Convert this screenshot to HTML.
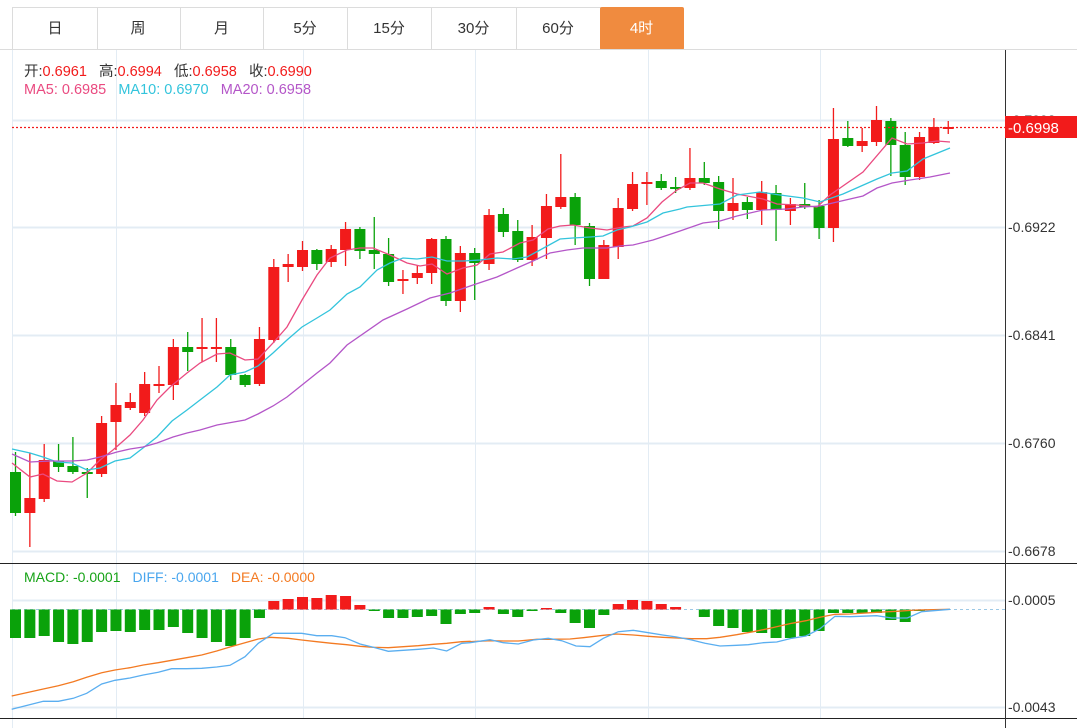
<!DOCTYPE html>
<html><head><meta charset="utf-8">
<style>
body{margin:0;width:1077px;height:728px;overflow:hidden;background:#fff;font-family:"Liberation Sans","Noto Sans CJK SC",sans-serif;}
.tabs{position:absolute;left:12px;top:7px;height:42px;}
.tab{position:absolute;top:0;height:41px;border:1px solid #dcdcdc;border-left:none;line-height:41px;text-align:center;font-size:15px;color:#333;}
.tab.a{background:#f08b3f;color:#fff;border-color:#f08b3f;border-radius:2px;}
.lg{position:absolute;left:24px;font-size:14.5px;white-space:nowrap;}
</style></head><body>
<div class="tabs">
<div class="tab" style="left:0;width:84px;border-left:1px solid #dcdcdc">日</div>
<div class="tab" style="left:84px;width:84px">周</div>
<div class="tab" style="left:168px;width:83px">月</div>
<div class="tab" style="left:251px;width:84px">5分</div>
<div class="tab" style="left:335px;width:84px">15分</div>
<div class="tab" style="left:419px;width:85px">30分</div>
<div class="tab" style="left:504px;width:84px">60分</div>
<div class="tab a" style="left:588px;width:83px">4时</div>
</div>
<svg id="s" width="1077" height="728" style="position:absolute;left:0;top:0">
<line x1="0" y1="49.5" x2="1077" y2="49.5" stroke="#dcdcdc"/>
<g stroke="#e3ecf4" stroke-width="1">
<line x1="116.5" y1="50" x2="116.5" y2="718"/><line x1="303.5" y1="50" x2="303.5" y2="718"/>
<line x1="475.5" y1="50" x2="475.5" y2="718"/><line x1="648.5" y1="50" x2="648.5" y2="718"/>
<line x1="820.5" y1="50" x2="820.5" y2="718"/>
<line x1="12" y1="120.5" x2="1005" y2="120.5" stroke-width="2"/><line x1="12" y1="227.5" x2="1005" y2="227.5" stroke-width="2"/>
<line x1="12" y1="335.5" x2="1005" y2="335.5" stroke-width="2"/><line x1="12" y1="443.5" x2="1005" y2="443.5" stroke-width="2"/>
<line x1="12" y1="551.5" x2="1005" y2="551.5" stroke-width="2"/>
<line x1="12" y1="600.5" x2="1005" y2="600.5" stroke-width="2"/><line x1="12" y1="707.5" x2="1005" y2="707.5" stroke-width="2"/>
<line x1="12.5" y1="50" x2="12.5" y2="728"/>
</g>
<line x1="0" y1="563.5" x2="1077" y2="563.5" stroke="#222"/>
<line x1="0" y1="718.5" x2="1077" y2="718.5" stroke="#222"/>
<line x1="1005.5" y1="50" x2="1005.5" y2="728" stroke="#333"/>
<line x1="12" y1="609.5" x2="1005" y2="609.5" stroke="#9cc9e6" stroke-dasharray="3,3"/>
<g id="c"></g>
<line x1="12" y1="127.5" x2="1005" y2="127.5" stroke="#f21b1b" stroke-width="1.2" stroke-dasharray="2,2"/>
<g font-size="14" fill="#333" font-family="Liberation Sans,sans-serif">
<text x="1008" y="125">-0.7003</text>
<text x="1008" y="232">-0.6922</text>
<text x="1008" y="340">-0.6841</text>
<text x="1008" y="448">-0.6760</text>
<text x="1008" y="556">-0.6678</text>
<text x="1008" y="605">-0.0005</text>
<text x="1008" y="712">-0.0043</text>
</g>
<rect x="1005" y="116" width="72" height="22" fill="#f21b1b"/>
<text x="1008" y="133" font-size="15" fill="#fff">-0.6998</text>
<text x="24" y="582" font-size="14"><tspan fill="#17a317">MACD: -0.0001</tspan><tspan fill="#49a6ee" dx="12">DIFF: -0.0001</tspan><tspan fill="#f37a22" dx="12">DEA: -0.0000</tspan></text>
</svg>
<div class="lg" style="top:60px"><span style="color:#333">开:</span><span style="color:#f21b1b">0.6961</span>&nbsp;&nbsp; <span style="color:#333">高:</span><span style="color:#f21b1b">0.6994</span>&nbsp;&nbsp; <span style="color:#333">低:</span><span style="color:#f21b1b">0.6958</span>&nbsp;&nbsp; <span style="color:#333">收:</span><span style="color:#f21b1b">0.6990</span></div>
<div class="lg" style="top:82px"><span style="color:#ea4a80">MA5: 0.6985</span>&nbsp;&nbsp; <span style="color:#33c4dc">MA10: 0.6970</span>&nbsp;&nbsp; <span style="color:#b456c8">MA20: 0.6958</span></div>
<script>
var C=[[472,513,452,516,'g'],[498,513,453,547,'r'],[460,499,444,502,'r'],[461,467,444,472,'g'],[466,472,437,474,'g'],[472,474,468,498,'g'],[423,474,416,477,'r'],[405,422,383,450,'r'],[402,408,393,410,'r'],[384,413,372,416,'r'],[384,386,366,393,'r'],[347,385,339,400,'r'],[347,352,332,371,'g'],[347,349,318,362,'r'],[347,349,318,362,'r'],[347,375,339,380,'g'],[375,385,374,387,'g'],[339,384,327,386,'r'],[267,340,259,343,'r'],[264,267,254,282,'r'],[250,267,241,271,'r'],[250,264,249,270,'g'],[249,262,245,267,'r'],[229,250,222,266,'r'],[229,251,227,259,'g'],[250,254,217,269,'g'],[254,282,238,286,'g'],[279,281,270,294,'r'],[273,278,265,284,'r'],[239,273,238,284,'r'],[239,301,236,306,'g'],[253,301,246,312,'r'],[253,263,248,300,'g'],[215,264,209,270,'r'],[214,232,208,237,'g'],[231,260,220,262,'g'],[237,260,225,266,'r'],[206,238,194,259,'r'],[197,207,154,209,'r'],[197,225,193,245,'g'],[226,279,223,286,'g'],[245,279,240,279,'r'],[208,247,198,259,'r'],[184,209,172,211,'r'],[182,184,172,205,'r'],[181,188,174,190,'g'],[187,188,177,193,'g'],[178,188,148,190,'r'],[178,183,162,185,'g'],[182,211,176,229,'g'],[203,211,178,220,'r'],[202,210,197,219,'g'],[192,210,181,225,'r'],[193,210,185,241,'g'],[204,211,198,225,'r'],[204,207,183,209,'g'],[206,228,200,239,'g'],[139,228,108,242,'r'],[138,146,121,147,'g'],[141,146,128,152,'r'],[120,142,106,146,'r'],[121,145,118,176,'g'],[145,177,132,185,'g'],[137,177,132,180,'r'],[127,143,118,144,'r'],[127,128,121,134,'r']];
var M=[638,638,636,642,644,642,632,631,632,630,630,627,633,638,642,646,638,618,601,599,597,598,595,596,605,611,618,618,617,616,624,614,613,607,614,617,611,608,613,623,628,615,604,600,601,604,607,609.5,617,626,628,632,633,638,638,636,631,613,613,613,613,620,622,611,610,609.5];
var h='';
for(var i=0;i<C.length;i++){var x=15.5+14.35*i,c=C[i],col=c[4]=='r'?'#f21b1b':'#0aa20a';
h+='<line x1="'+x+'" y1="'+c[2]+'" x2="'+x+'" y2="'+c[3]+'" stroke="'+col+'" stroke-width="1.3"/>';
h+='<rect x="'+(x-5.5)+'" y="'+c[0]+'" width="11" height="'+Math.max(2,c[1]-c[0])+'" fill="'+col+'"/>';
var m=M[i],z=609.5;if(Math.abs(m-z)>0.8){var mc=m<z?'#f21b1b':'#0aa20a';h+='<rect x="'+(x-5.5)+'" y="'+Math.min(m,z)+'" width="11" height="'+Math.abs(m-z)+'" fill="'+mc+'"/>';}}
function pl(p,col){return '<polyline fill="none" stroke="'+col+'" stroke-width="1.3" points="'+p+'"/>';}
h+=pl('12,463 30,477 43,474 57,481 72,482 87,473 100,460 113,450 130,435 143,420 157,400 170,387 187,373 200,363 217,354 230,353 245,360 258,359 273,343 287,327 302,300 317,275 330,258 347,250 360,248 373,248 390,255 407,263 420,266 432,264 447,274 463,268 477,265 490,254 503,252 520,243 533,240 548,229 560,226 573,225 590,228 607,230 623,227 633,226 647,218 662,202 677,190 690,183 703,183 720,189 737,194 763,199 777,204 797,205 817,207 830,195 863,172 892,138 907,144 923,143 937,141 950,142','#ea4a80');
h+=pl('12,449 30,453 43,457 57,462 72,463 87,470 100,468 115,461 130,458 143,448 157,437 172,421 187,410 200,400 217,387 230,375 245,372 258,366 273,353 287,340 302,327 317,318 330,310 347,294 360,287 377,270 390,263 403,258 417,259 432,257 447,261 463,261 480,260 497,258 513,259 527,257 540,250 560,239 573,238 590,237 603,236 617,230 630,227 647,222 663,213 680,209 687,207 720,204 737,195 760,192 780,195 803,198 820,202 843,194 877,179 892,173 907,171 923,159 950,148','#33c4dc');
h+=pl('12,454 30,462 50,461 72,461 87,460 100,457 117,452 130,449 143,447 157,443 173,437 187,433 200,430 217,425 245,420 258,414 273,406 287,397 302,385 317,373 330,363 347,345 383,320 407,309 430,298 450,293 473,285 497,277 517,268 533,261 550,253 567,250 583,248 607,248 620,246 633,245 653,240 680,231 703,223 720,221 737,216 763,210 787,209 803,207 820,206 837,202 863,196 877,188 892,183 910,180 930,177 950,173','#b456c8');
function cv(a,ox){var r=[];for(var i=0;i<a.length;i+=2)r.push((ox+a[i]/3).toFixed(1)+','+(590+a[i+1]/3).toFixed(1));return r.join(' ');}
var d1=[35,358,130,334,175,334,220,325,260,310,305,282,345,271,390,264,430,255,475,247,515,236,560,236,605,235,650,231,690,226,735,200,775,160,820,130,865,130,905,130,950,137,995,137,1035,143,1080,162,1120,172,1165,184,1210,181,1255,178,1300,174,1340,183,1385,160,1410,158];
var d2=[0,158,60,149,100,158,145,162,190,150,235,145,275,152,318,168,360,170,400,145,445,125,490,121,535,128,578,135,620,141,665,150,705,160,750,168,800,166,835,164,880,158,920,156,965,145,1008,138,1050,116,1095,79,1140,80,1220,77,1265,84,1312,84,1355,65,1440,58];
var e1=[35,318,130,297,175,287,220,275,260,262,305,248,345,240,390,233,430,225,475,218,515,211,560,203,605,195,650,183,690,171,735,158,775,147,810,142,865,145,905,150,950,155,995,160,1040,164,1080,169,1120,172,1165,173,1210,170,1255,167,1300,163,1340,160,1385,155,1410,154];
var e2=[0,155,60,152,100,153,145,153,200,148,240,148,300,147,340,143,400,136,440,132,490,135,535,139,578,142,620,144,665,146,710,146,750,142,800,134,850,125,900,115,965,100,1008,92,1050,82,1095,73,1140,72,1220,67,1280,64,1340,60,1440,58];
h+=pl(cv(e1,0)+' '+cv(e2,470),'#f37a22');
h+=pl(cv(d1,0)+' '+cv(d2,470),'#5aaef0');
document.getElementById('c').innerHTML=h;
</script>
</body></html>
